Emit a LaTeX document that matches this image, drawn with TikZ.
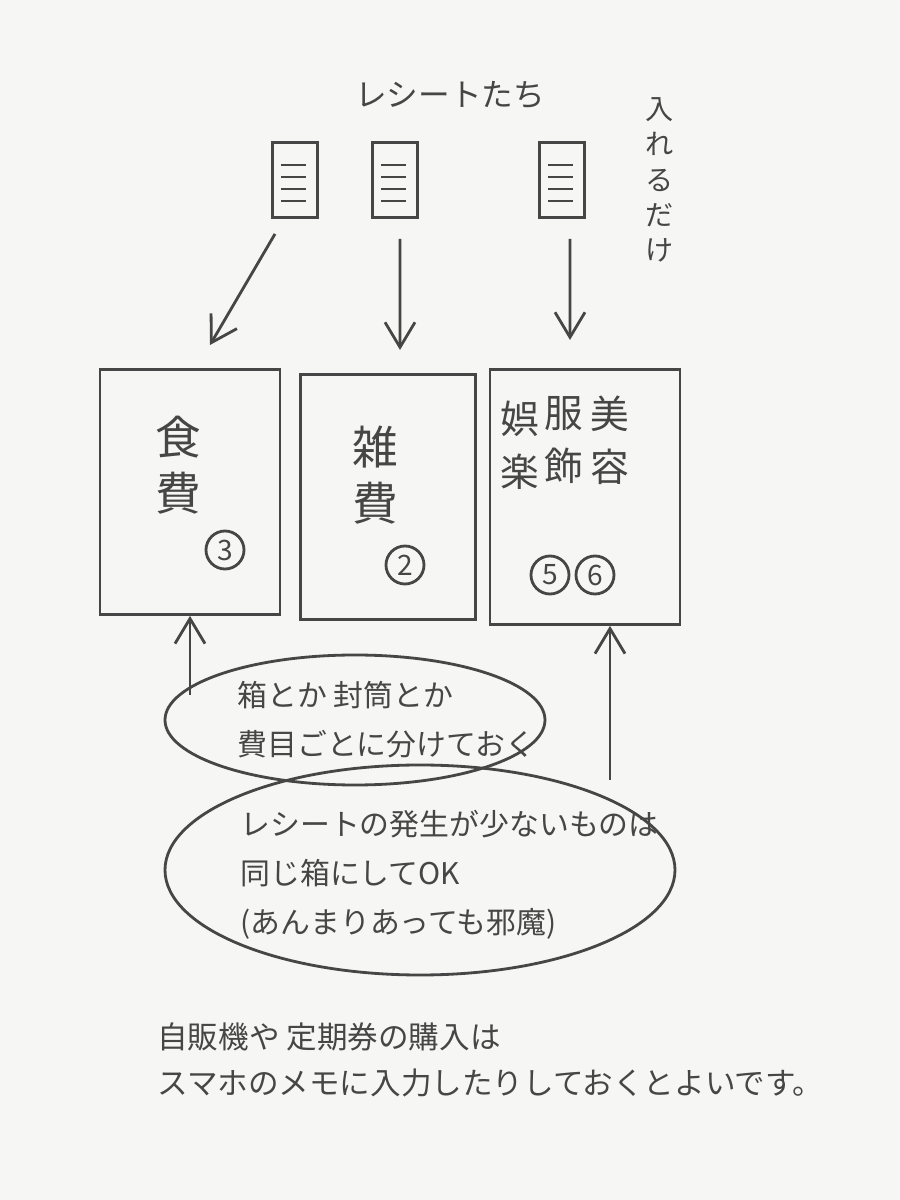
\documentclass[tikz,border=0pt]{standalone}
\usepackage{fontspec}
\setmainfont{Noto Sans CJK JP}
\usetikzlibrary{arrows.meta, positioning, shapes.geometric, calc}
\definecolor{pencil}{RGB}{70,70,70}
\definecolor{paper}{RGB}{246,246,244}
\tikzset{
    receipt/.style={
        rectangle,
        draw=pencil,
        thick,
        minimum width=0.45cm,
        minimum height=0.75cm
    },
    box/.style={
        rectangle,
        draw=pencil,
        thick,
        minimum width=1.8cm,
        minimum height=2.45cm
    },
    bubble/.style={
        ellipse,
        draw=pencil,
        thick
    },
    connection/.style={
        draw=pencil,
        thick,
        -{Straight Barb[length=2.5mm,width=3mm]}
    },
    label/.style={
        font=\fontsize{9}{13}\selectfont,
        text=pencil
    },
    bigtext/.style={
        font=\fontsize{13}{16}\selectfont,
        text=pencil,
        align=center
    },
    num/.style={
        circle,
        draw=pencil,
        thick,
        inner sep=1pt,
        minimum size=0.38cm,
        font=\fontsize{8}{8}\selectfont,
        text=pencil
    }
}
\begin{document}
\begin{tikzpicture}
\useasboundingbox (0,0) rectangle (9,12);
\fill[paper] (0,0) rectangle (9,12);

% Title
\node[label] (title) at (4.5,11.05) {レシートたち};
\node[label, align=center, font=\fontsize{8}{10}\selectfont] (only) at (6.6,10.2) {入\\れ\\る\\だ\\け};

% Receipts
\foreach \name/\x/\y in {r1/2.95/10.2, r2/3.95/10.2, r3/5.62/10.2} {
    \node[receipt] (\name) at (\x,\y) {};
    \foreach \k in {1,2,3,4} {
        \draw[pencil] ($(\name.north west)+(0.1,-0.12-0.12*\k)$) -- ++(0.25,0);
    }
}

% Boxes
\node[box] (food) at (1.9,7.08) {};
\node[box, minimum width=1.75cm] (misc) at (3.88,7.03) {};
\node[box, minimum width=1.9cm, minimum height=2.55cm] (beauty) at (5.85,7.03) {};

\coordinate (in1) at (2.1,8.55);
\coordinate (in2) at (4.0,8.5);
\coordinate (in3) at (5.7,8.6);
\draw[connection] (r1.south) ++(-0.2,-0.15) -- (in1);
\draw[connection] (r2.south) ++(0.05,-0.2) -- (in2);
\draw[connection] (r3.south) ++(0.08,-0.2) -- (in3);

% Box texts
\node[bigtext] (foodtxt) at (1.78,7.35) {食\\費};
\node[num] (n3) at (2.25,6.5) {3};
\node[bigtext] (misctxt) at (3.75,7.25) {雑\\費};
\node[num] (n2) at (4.05,6.35) {2};
\node[bigtext, font=\fontsize{11}{15}\selectfont] (c1) at (6.1,7.6) {美\\容};
\node[bigtext, font=\fontsize{11}{15}\selectfont] (c2) at (5.64,7.6) {服\\飾};
\node[bigtext, font=\fontsize{11}{15}\selectfont] (c3) at (5.2,7.55) {娯\\楽};
\node[num] (n5) at (5.5,6.25) {5};
\node[num] (n6) at (5.95,6.25) {6};

% Bubbles
\node[bubble, minimum width=3.8cm, minimum height=1.3cm] (b1) at (3.55,4.8) {};
\node[bubble, minimum width=5.1cm, minimum height=2.1cm] (b2) at (4.2,3.3) {};
\node[label, align=left, anchor=west, font=\fontsize{8.5}{14}\selectfont] (b1txt) at (2.25,4.8) {箱とか 封筒とか\\費目ごとに分けておく};
\node[label, align=left, anchor=west, font=\fontsize{8.5}{14}\selectfont] (b2txt) at (2.28,3.25) {レシートの発生が少ないものは\\同じ箱にしてOK\\(あんまりあっても邪魔)};

\coordinate (up1) at (1.9,5.05);
\coordinate (up2) at (6.1,4.2);
\draw[connection] (up1) -- (food.south -| up1);
\draw[connection] (up2) -- (beauty.south -| up2);

% Note
\node[label, align=left, anchor=west, font=\fontsize{8.7}{13}\selectfont] (note) at (1.45,1.4) {自販機や 定期券の購入は\\スマホのメモに入力したりしておくとよいです。};

\end{tikzpicture}
\end{document}
